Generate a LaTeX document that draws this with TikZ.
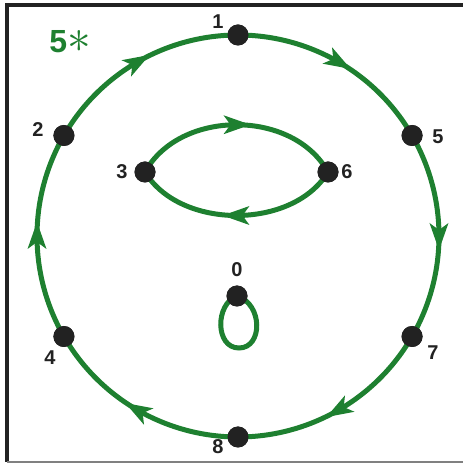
\documentclass[tikz,border=0pt]{standalone}
\usepackage{fontspec}
\setmainfont{Liberation Sans}
\usetikzlibrary{decorations.markings,calc}
\definecolor{grn}{RGB}{30,128,48}
\definecolor{ink}{RGB}{34,34,34}
\tikzset{
  dot/.style={circle,fill=ink,inner sep=0pt,minimum size=21pt},
  lbl/.style={font=\bfseries\fontsize{20}{20}\selectfont,text=ink,inner sep=0pt},
  path/.style={draw=grn,line width=5pt},
  midarrow/.style={path,postaction={decorate},decoration={markings,
    mark=at position 0.5 with {\fill[grn] (14pt,0pt) -- (-13pt,9.5pt) -- (-6pt,0pt) -- (-13pt,-9.5pt) -- cycle;}}}
}
\begin{document}
\begin{tikzpicture}[x=1pt,y=1pt]
\useasboundingbox (0,0) rectangle (463,464);
% frame
\draw[ink,line width=4pt] (7,2) -- (7,459) -- (463,459);
\draw[gray,line width=1.2pt] (7,2) -- (463,2);
% nodes
\coordinate (C) at (238,228);
\node[dot] (n1) at ($(C)+(90:201)$) {};
\node[dot] (n5) at ($(C)+(30:201)$) {};
\node[dot] (n7) at ($(C)+(-30:201)$) {};
\node[dot] (n8) at ($(C)+(-90:201)$) {};
\node[dot] (n4) at ($(C)+(210:201)$) {};
\node[dot] (n2) at ($(C)+(150:201)$) {};
\node[dot] (n3) at (145,292) {};
\node[dot] (n6) at (328,292) {};
\node[dot] (n0) at (237,168) {};
% outer arcs (clockwise)
\path[midarrow] (n1.center) arc[start angle=90,end angle=30,radius=201];
\path[midarrow] (n5.center) arc[start angle=30,end angle=-30,radius=201];
\path[midarrow] (n7.center) arc[start angle=-30,end angle=-90,radius=201];
\path[midarrow] (n8.center) arc[start angle=-90,end angle=-150,radius=201];
\path[midarrow] (n4.center) arc[start angle=210,end angle=150,radius=201];
\path[midarrow] (n2.center) arc[start angle=150,end angle=90,radius=201];
% lens
\path[midarrow] (n3.center) .. controls (180,355) and (293,355) .. (n6.center);
\path[midarrow] (n6.center) .. controls (293,234) and (180,234) .. (n3.center);
% loop at 0
\path[path] (n0.center) .. controls (215,160) and (215,116) .. (239,116)
  .. controls (263,116) and (263,160) .. (n0.center);
% dots on top
\foreach \n in {n1,n2,n3,n4,n5,n6,n7,n8,n0}{\fill[ink] (\n) circle[radius=10.5pt];}
% labels
\node[lbl] (l1) at (218,442) {1};
\node[lbl] (l2) at (38,334) {2};
\node[lbl] (l5) at (438,327) {5};
\node[lbl] (l3) at (122,292) {3};
\node[lbl] (l6) at (347,292) {6};
\node[lbl] (l0) at (237,194) {0};
\node[lbl] (l4) at (50,106) {4};
\node[lbl] (l7) at (433,111) {7};
\node[lbl] (l8) at (218,17) {8};
\node[inner sep=0pt,text=grn,font=\bfseries\fontsize{32}{32}\selectfont] (title) at (70,422) {5\scalebox{1.9}{$\ast$}};
\end{tikzpicture}
\end{document}
